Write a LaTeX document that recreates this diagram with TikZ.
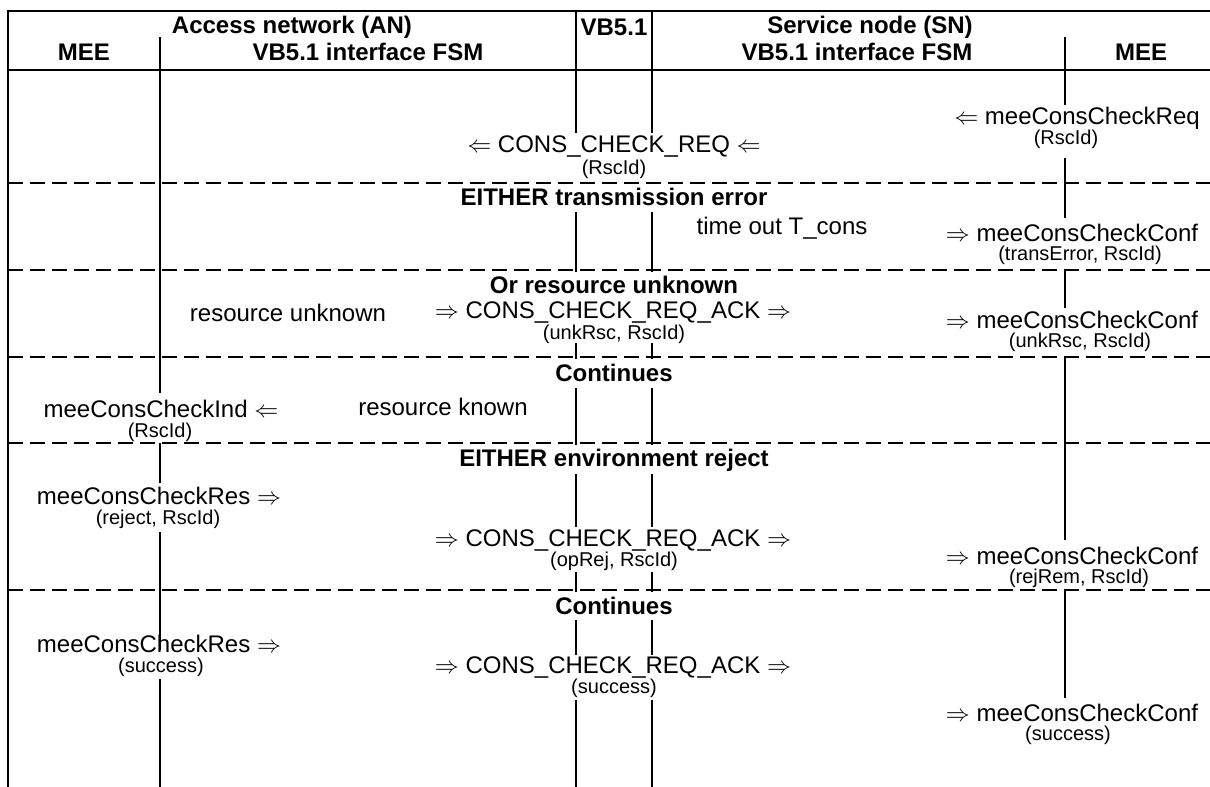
\documentclass[tikz,border=0pt]{standalone}
\usepackage{fontspec}
\setmainfont{Liberation Sans}
\usetikzlibrary{positioning}
\tikzset{
  msg/.style={font=\fontsize{12}{14}\selectfont, inner sep=0pt},
  par/.style={font=\fontsize{10}{12}\selectfont, inner sep=0pt},
  hdr/.style={font=\fontsize{12}{14}\selectfont\bfseries, inner sep=0pt},
  gridline/.style={line width=1.25pt},
  sepline/.style={line width=1.25pt, dash pattern=on 7.5pt off 3.5pt},
}
\begin{document}
\begin{tikzpicture}[x=0.5pt,y=-0.5pt]
  \useasboundingbox (0,0) rectangle (1210,787);
  % frame and column heads
  \draw[gridline] (1210,11) -- (8,11) -- (8,787);
  \draw[gridline] (8,70) -- (1210,70);
  \node[hdr] (an)   at (292,27)  {Access network (AN)};
  \node[hdr] (vb)   at (614,27)  {VB5.1};
  \node[hdr] (sn)   at (870,27)  {Service node (SN)};
  \node[hdr] (meeA) at (84,52)   {MEE};
  \node[hdr] (fsmA) at (368,52)  {VB5.1 interface FSM};
  \node[hdr] (fsmS) at (857,52)  {VB5.1 interface FSM};
  \node[hdr] (meeS) at (1141,52) {MEE};
  % lifelines, broken where a label crosses them
  \foreach \a/\b in {37/393,443/483,532/650,679/787}
    \draw[gridline] (160,\a) -- (160,\b);
  \foreach \a/\b in {11/133,212/272,343/359,388/445,474/527,572/592,620/655,700/787}{
    \draw[gridline] (576,\a) -- (576,\b);
    \draw[gridline] (652,\a) -- (652,\b);
  }
  \foreach \a/\b in {37/105,158/218,270/308,357/540,590/698}
    \draw[gridline] (1065,\a) -- (1065,\b);
  % alternative sections
  \foreach \y in {183,270,357,443,590}
    \draw[sepline] (8,\y) -- (1210,\y);
  % request
  \node[msg] (reqS)  at (1077,118) {$\Leftarrow$ meeConsCheckReq};
  \node[par] (reqSp) at (1066,139) {(RscId)};
  \node[msg] (reqV)  at (614,147)  {$\Leftarrow$ CONS\_CHECK\_REQ $\Leftarrow$};
  \node[par] (reqVp) at (614,169)  {(RscId)};
  % either transmission error
  \node[hdr] (alt1)   at (614,197)  {EITHER transmission error};
  \node[msg] (tout)   at (782,228)  {time out T\_cons};
  \node[msg] (confA)  at (1072,233) {$\Rightarrow$ meeConsCheckConf};
  \node[par] (confAp) at (1080,255) {(transError, RscId)};
  % or resource unknown
  \node[hdr] (alt2)   at (614,285)  {Or resource unknown};
  \node[msg] (unk)    at (288,313)  {resource unknown};
  \node[msg] (ackA)   at (613,313)  {$\Rightarrow$ CONS\_CHECK\_REQ\_ACK $\Rightarrow$};
  \node[par] (ackAp)  at (614,334)  {(unkRsc, RscId)};
  \node[msg] (confB)  at (1072,320) {$\Rightarrow$ meeConsCheckConf};
  \node[par] (confBp) at (1080,342) {(unkRsc, RscId)};
  % continues
  \node[hdr] (cont1) at (614,373) {Continues};
  \node[msg] (ind)   at (161,409) {meeConsCheckInd $\Leftarrow$};
  \node[par] (indp)  at (160,432) {(RscId)};
  \node[msg] (known) at (443,407) {resource known};
  % either environment reject
  \node[hdr] (alt3)   at (614,460)  {EITHER environment reject};
  \node[msg] (resA)   at (159,496)  {meeConsCheckRes $\Rightarrow$};
  \node[par] (resAp)  at (158,519)  {(reject, RscId)};
  \node[msg] (ackB)   at (613,540)  {$\Rightarrow$ CONS\_CHECK\_REQ\_ACK $\Rightarrow$};
  \node[par] (ackBp)  at (614,561)  {(opRej, RscId)};
  \node[msg] (confC)  at (1072,556) {$\Rightarrow$ meeConsCheckConf};
  \node[par] (confCp) at (1079,578) {(rejRem, RscId)};
  % continues
  \node[hdr] (cont2)  at (614,606)  {Continues};
  \node[msg] (resB)   at (159,644)  {meeConsCheckRes $\Rightarrow$};
  \node[par] (resBp)  at (161,667)  {(success)};
  \node[msg] (ackC)   at (613,667)  {$\Rightarrow$ CONS\_CHECK\_REQ\_ACK $\Rightarrow$};
  \node[par] (ackCp)  at (614,688)  {(success)};
  \node[msg] (confD)  at (1072,713) {$\Rightarrow$ meeConsCheckConf};
  \node[par] (confDp) at (1068,735) {(success)};
\end{tikzpicture}
\end{document}
